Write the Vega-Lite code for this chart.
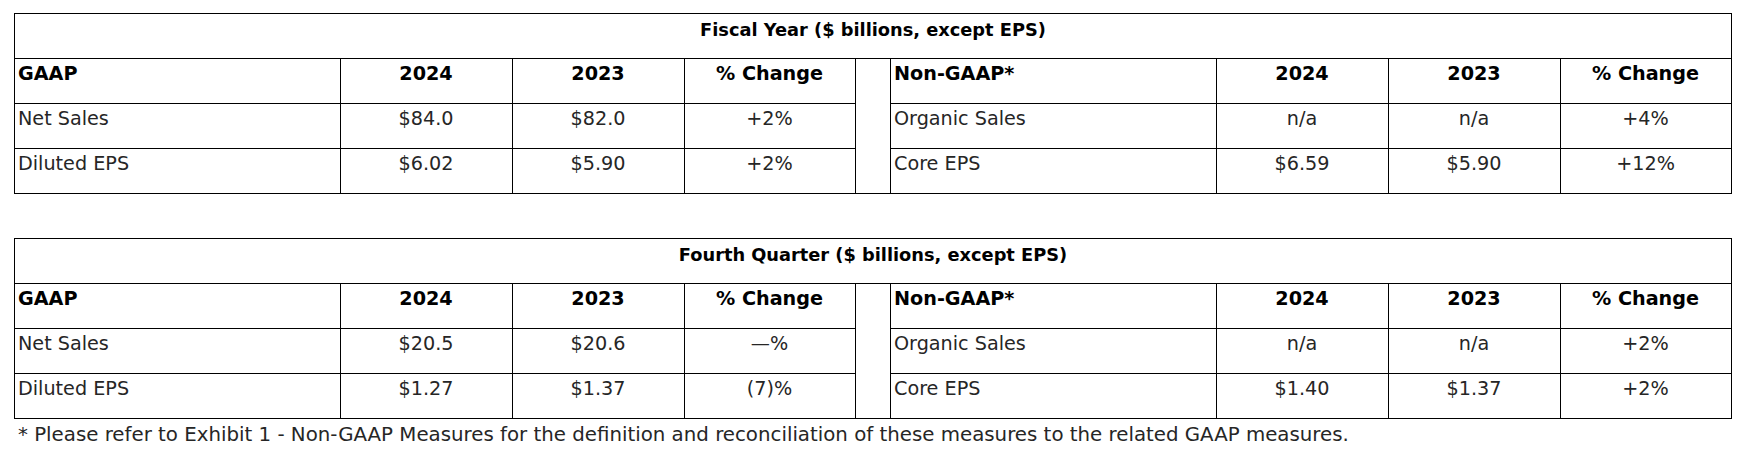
{
"$schema": "https://vega.github.io/schema/vega-lite/v6.json",
"padding": {"left": 14, "top": 13, "right": 0, "bottom": 0},
"background": "white",
"config": {
  "view": {"stroke": null},
  "rect": {"color": "#000"},
  "text": {"font": "DejaVu Sans", "baseline": "alphabetic"},
  "style": {
    "hdr": {"fontWeight": 700, "fontSize": 19.2, "color": "#000", "dy": 22.3},
    "body": {"fontWeight": 400, "fontSize": 19.2, "color": "#262626", "dy": 22.3},
    "ttl": {"fontWeight": 700, "fontSize": 17.8, "color": "#000"},
    "note": {"fontWeight": 400, "fontSize": 19.8, "color": "#262626"}
  }
},
"datasets": {
  "titles": [
    {"t": "FY", "title": "Fiscal Year ($ billions, except EPS)"},
    {"t": "Q4", "title": "Fourth Quarter ($ billions, except EPS)"}
  ],
  "notes": [
    {"note": "* Please refer to Exhibit 1 - Non-GAAP Measures for the definition and reconciliation of these measures to the related GAAP measures."}
  ],
  "cells": [
    {"t": "FY", "c": "gl", "r": 0, "v": "GAAP"},
    {"t": "FY", "c": "gl", "r": 1, "v": "Net Sales"},
    {"t": "FY", "c": "gl", "r": 2, "v": "Diluted EPS"},
    {"t": "FY", "c": "g24", "r": 0, "v": "2024"},
    {"t": "FY", "c": "g24", "r": 1, "v": "$84.0"},
    {"t": "FY", "c": "g24", "r": 2, "v": "$6.02"},
    {"t": "FY", "c": "g23", "r": 0, "v": "2023"},
    {"t": "FY", "c": "g23", "r": 1, "v": "$82.0"},
    {"t": "FY", "c": "g23", "r": 2, "v": "$5.90"},
    {"t": "FY", "c": "gch", "r": 0, "v": "% Change"},
    {"t": "FY", "c": "gch", "r": 1, "v": "+2%"},
    {"t": "FY", "c": "gch", "r": 2, "v": "+2%"},
    {"t": "FY", "c": "nl", "r": 0, "v": "Non-GAAP*"},
    {"t": "FY", "c": "nl", "r": 1, "v": "Organic Sales"},
    {"t": "FY", "c": "nl", "r": 2, "v": "Core EPS"},
    {"t": "FY", "c": "n24", "r": 0, "v": "2024"},
    {"t": "FY", "c": "n24", "r": 1, "v": "n/a"},
    {"t": "FY", "c": "n24", "r": 2, "v": "$6.59"},
    {"t": "FY", "c": "n23", "r": 0, "v": "2023"},
    {"t": "FY", "c": "n23", "r": 1, "v": "n/a"},
    {"t": "FY", "c": "n23", "r": 2, "v": "$5.90"},
    {"t": "FY", "c": "nch", "r": 0, "v": "% Change"},
    {"t": "FY", "c": "nch", "r": 1, "v": "+4%"},
    {"t": "FY", "c": "nch", "r": 2, "v": "+12%"},
    {"t": "Q4", "c": "gl", "r": 0, "v": "GAAP"},
    {"t": "Q4", "c": "gl", "r": 1, "v": "Net Sales"},
    {"t": "Q4", "c": "gl", "r": 2, "v": "Diluted EPS"},
    {"t": "Q4", "c": "g24", "r": 0, "v": "2024"},
    {"t": "Q4", "c": "g24", "r": 1, "v": "$20.5"},
    {"t": "Q4", "c": "g24", "r": 2, "v": "$1.27"},
    {"t": "Q4", "c": "g23", "r": 0, "v": "2023"},
    {"t": "Q4", "c": "g23", "r": 1, "v": "$20.6"},
    {"t": "Q4", "c": "g23", "r": 2, "v": "$1.37"},
    {"t": "Q4", "c": "gch", "r": 0, "v": "% Change"},
    {"t": "Q4", "c": "gch", "r": 1, "v": "—%"},
    {"t": "Q4", "c": "gch", "r": 2, "v": "(7)%"},
    {"t": "Q4", "c": "nl", "r": 0, "v": "Non-GAAP*"},
    {"t": "Q4", "c": "nl", "r": 1, "v": "Organic Sales"},
    {"t": "Q4", "c": "nl", "r": 2, "v": "Core EPS"},
    {"t": "Q4", "c": "n24", "r": 0, "v": "2024"},
    {"t": "Q4", "c": "n24", "r": 1, "v": "n/a"},
    {"t": "Q4", "c": "n24", "r": 2, "v": "$1.40"},
    {"t": "Q4", "c": "n23", "r": 0, "v": "2023"},
    {"t": "Q4", "c": "n23", "r": 1, "v": "n/a"},
    {"t": "Q4", "c": "n23", "r": 2, "v": "$1.37"},
    {"t": "Q4", "c": "nch", "r": 0, "v": "% Change"},
    {"t": "Q4", "c": "nch", "r": 1, "v": "+2%"},
    {"t": "Q4", "c": "nch", "r": 2, "v": "+2%"}
  ]
},
"spacing": 44,
"vconcat": [
 {"spacing": 0, "vconcat": [
  {"width": 1718, "height": 45, "data": {"name": "titles"}, "transform": [{"filter": "datum.t=='FY'"}],
   "layer": [
    {"mark": {"type": "rect", "y2Offset": 1}, "encoding": {"y": {"datum": 0, "type": "quantitative", "scale": {"domain": [0,1], "reverse": true, "nice": false}, "axis": null}, "y2": {"datum": 0}}},
    {"mark": {"type": "rect", "x2Offset": 1}, "encoding": {"x": {"datum": 0, "type": "quantitative", "scale": {"domain": [0,1], "nice": false}, "axis": null}, "x2": {"datum": 0}}},
    {"mark": {"type": "rect", "x2Offset": -1}, "encoding": {"x": {"datum": 1, "type": "quantitative"}, "x2": {"datum": 1}}},
    {"mark": {"type": "text", "style": "ttl"}, "encoding": {"text": {"field": "title"}}}
   ]},
  {"spacing": 0, "hconcat": [
   {"width": 326, "height": 135, "data": {"name": "cells"}, "transform": [{"filter": "datum.t=='FY' && datum.c=='gl'"}],
    "layer": [
     {"mark": {"type": "rect", "y2Offset": 1}, "encoding": {"y": {"field": "r", "type": "quantitative", "scale": {"domain": [0,3], "reverse": true, "nice": false, "zero": false}, "axis": null}, "y2": {"field": "r"}}},
     {"mark": {"type": "rect", "y2Offset": 1}, "encoding": {"y": {"datum": 3, "type": "quantitative"}, "y2": {"datum": 3}}},
     {"mark": {"type": "rect", "x2Offset": 1}, "encoding": {"x": {"datum": 0, "type": "quantitative", "scale": {"domain": [0,1], "nice": false}, "axis": null}, "x2": {"datum": 0}}},
     {"transform": [{"filter": "datum.r==0"}], "mark": {"type": "text", "style": "hdr", "align": "left", "dx": 4}, "encoding": {"y": {"field": "r", "type": "quantitative"}, "x": {"datum": 0, "type": "quantitative"}, "text": {"field": "v"}}},
     {"transform": [{"filter": "datum.r>0"}], "mark": {"type": "text", "style": "body", "align": "left", "dx": 4}, "encoding": {"y": {"field": "r", "type": "quantitative"}, "x": {"datum": 0, "type": "quantitative"}, "text": {"field": "v"}}}
    ]},
   {"width": 172, "height": 135, "data": {"name": "cells"}, "transform": [{"filter": "datum.t=='FY' && datum.c=='g24'"}],
    "layer": [
     {"mark": {"type": "rect", "y2Offset": 1}, "encoding": {"y": {"field": "r", "type": "quantitative", "scale": {"domain": [0,3], "reverse": true, "nice": false, "zero": false}, "axis": null}, "y2": {"field": "r"}}},
     {"mark": {"type": "rect", "y2Offset": 1}, "encoding": {"y": {"datum": 3, "type": "quantitative"}, "y2": {"datum": 3}}},
     {"mark": {"type": "rect", "x2Offset": 1}, "encoding": {"x": {"datum": 0, "type": "quantitative", "scale": {"domain": [0,1], "nice": false}, "axis": null}, "x2": {"datum": 0}}},
     {"transform": [{"filter": "datum.r==0"}], "mark": {"type": "text", "style": "hdr"}, "encoding": {"y": {"field": "r", "type": "quantitative"}, "text": {"field": "v"}}},
     {"transform": [{"filter": "datum.r>0"}], "mark": {"type": "text", "style": "body"}, "encoding": {"y": {"field": "r", "type": "quantitative"}, "text": {"field": "v"}}}
    ]},
   {"width": 172, "height": 135, "data": {"name": "cells"}, "transform": [{"filter": "datum.t=='FY' && datum.c=='g23'"}],
    "layer": [
     {"mark": {"type": "rect", "y2Offset": 1}, "encoding": {"y": {"field": "r", "type": "quantitative", "scale": {"domain": [0,3], "reverse": true, "nice": false, "zero": false}, "axis": null}, "y2": {"field": "r"}}},
     {"mark": {"type": "rect", "y2Offset": 1}, "encoding": {"y": {"datum": 3, "type": "quantitative"}, "y2": {"datum": 3}}},
     {"mark": {"type": "rect", "x2Offset": 1}, "encoding": {"x": {"datum": 0, "type": "quantitative", "scale": {"domain": [0,1], "nice": false}, "axis": null}, "x2": {"datum": 0}}},
     {"transform": [{"filter": "datum.r==0"}], "mark": {"type": "text", "style": "hdr"}, "encoding": {"y": {"field": "r", "type": "quantitative"}, "text": {"field": "v"}}},
     {"transform": [{"filter": "datum.r>0"}], "mark": {"type": "text", "style": "body"}, "encoding": {"y": {"field": "r", "type": "quantitative"}, "text": {"field": "v"}}}
    ]},
   {"width": 171, "height": 135, "data": {"name": "cells"}, "transform": [{"filter": "datum.t=='FY' && datum.c=='gch'"}],
    "layer": [
     {"mark": {"type": "rect", "y2Offset": 1}, "encoding": {"y": {"field": "r", "type": "quantitative", "scale": {"domain": [0,3], "reverse": true, "nice": false, "zero": false}, "axis": null}, "y2": {"field": "r"}}},
     {"mark": {"type": "rect", "y2Offset": 1}, "encoding": {"y": {"datum": 3, "type": "quantitative"}, "y2": {"datum": 3}}},
     {"mark": {"type": "rect", "x2Offset": 1}, "encoding": {"x": {"datum": 0, "type": "quantitative", "scale": {"domain": [0,1], "nice": false}, "axis": null}, "x2": {"datum": 0}}},
     {"transform": [{"filter": "datum.r==0"}], "mark": {"type": "text", "style": "hdr"}, "encoding": {"y": {"field": "r", "type": "quantitative"}, "text": {"field": "v"}}},
     {"transform": [{"filter": "datum.r>0"}], "mark": {"type": "text", "style": "body"}, "encoding": {"y": {"field": "r", "type": "quantitative"}, "text": {"field": "v"}}}
    ]},
   {"width": 35, "height": 135, "data": {"name": "titles"}, "transform": [{"filter": "datum.t=='FY'"}],
    "layer": [
     {"mark": {"type": "rect", "y2Offset": 1}, "encoding": {"y": {"datum": 0, "type": "quantitative", "scale": {"domain": [0,3], "reverse": true, "nice": false, "zero": false}, "axis": null}, "y2": {"datum": 0}}},
     {"mark": {"type": "rect", "y2Offset": 1}, "encoding": {"y": {"datum": 3, "type": "quantitative"}, "y2": {"datum": 3}}},
     {"mark": {"type": "rect", "x2Offset": 1}, "encoding": {"x": {"datum": 0, "type": "quantitative", "scale": {"domain": [0,1], "nice": false}, "axis": null}, "x2": {"datum": 0}}}
    ]},
   {"width": 326, "height": 135, "data": {"name": "cells"}, "transform": [{"filter": "datum.t=='FY' && datum.c=='nl'"}],
    "layer": [
     {"mark": {"type": "rect", "y2Offset": 1}, "encoding": {"y": {"field": "r", "type": "quantitative", "scale": {"domain": [0,3], "reverse": true, "nice": false, "zero": false}, "axis": null}, "y2": {"field": "r"}}},
     {"mark": {"type": "rect", "y2Offset": 1}, "encoding": {"y": {"datum": 3, "type": "quantitative"}, "y2": {"datum": 3}}},
     {"mark": {"type": "rect", "x2Offset": 1}, "encoding": {"x": {"datum": 0, "type": "quantitative", "scale": {"domain": [0,1], "nice": false}, "axis": null}, "x2": {"datum": 0}}},
     {"transform": [{"filter": "datum.r==0"}], "mark": {"type": "text", "style": "hdr", "align": "left", "dx": 4}, "encoding": {"y": {"field": "r", "type": "quantitative"}, "x": {"datum": 0, "type": "quantitative"}, "text": {"field": "v"}}},
     {"transform": [{"filter": "datum.r>0"}], "mark": {"type": "text", "style": "body", "align": "left", "dx": 4}, "encoding": {"y": {"field": "r", "type": "quantitative"}, "x": {"datum": 0, "type": "quantitative"}, "text": {"field": "v"}}}
    ]},
   {"width": 172, "height": 135, "data": {"name": "cells"}, "transform": [{"filter": "datum.t=='FY' && datum.c=='n24'"}],
    "layer": [
     {"mark": {"type": "rect", "y2Offset": 1}, "encoding": {"y": {"field": "r", "type": "quantitative", "scale": {"domain": [0,3], "reverse": true, "nice": false, "zero": false}, "axis": null}, "y2": {"field": "r"}}},
     {"mark": {"type": "rect", "y2Offset": 1}, "encoding": {"y": {"datum": 3, "type": "quantitative"}, "y2": {"datum": 3}}},
     {"mark": {"type": "rect", "x2Offset": 1}, "encoding": {"x": {"datum": 0, "type": "quantitative", "scale": {"domain": [0,1], "nice": false}, "axis": null}, "x2": {"datum": 0}}},
     {"transform": [{"filter": "datum.r==0"}], "mark": {"type": "text", "style": "hdr"}, "encoding": {"y": {"field": "r", "type": "quantitative"}, "text": {"field": "v"}}},
     {"transform": [{"filter": "datum.r>0"}], "mark": {"type": "text", "style": "body"}, "encoding": {"y": {"field": "r", "type": "quantitative"}, "text": {"field": "v"}}}
    ]},
   {"width": 172, "height": 135, "data": {"name": "cells"}, "transform": [{"filter": "datum.t=='FY' && datum.c=='n23'"}],
    "layer": [
     {"mark": {"type": "rect", "y2Offset": 1}, "encoding": {"y": {"field": "r", "type": "quantitative", "scale": {"domain": [0,3], "reverse": true, "nice": false, "zero": false}, "axis": null}, "y2": {"field": "r"}}},
     {"mark": {"type": "rect", "y2Offset": 1}, "encoding": {"y": {"datum": 3, "type": "quantitative"}, "y2": {"datum": 3}}},
     {"mark": {"type": "rect", "x2Offset": 1}, "encoding": {"x": {"datum": 0, "type": "quantitative", "scale": {"domain": [0,1], "nice": false}, "axis": null}, "x2": {"datum": 0}}},
     {"transform": [{"filter": "datum.r==0"}], "mark": {"type": "text", "style": "hdr"}, "encoding": {"y": {"field": "r", "type": "quantitative"}, "text": {"field": "v"}}},
     {"transform": [{"filter": "datum.r>0"}], "mark": {"type": "text", "style": "body"}, "encoding": {"y": {"field": "r", "type": "quantitative"}, "text": {"field": "v"}}}
    ]},
   {"width": 172, "height": 135, "data": {"name": "cells"}, "transform": [{"filter": "datum.t=='FY' && datum.c=='nch'"}],
    "layer": [
     {"mark": {"type": "rect", "y2Offset": 1}, "encoding": {"y": {"field": "r", "type": "quantitative", "scale": {"domain": [0,3], "reverse": true, "nice": false, "zero": false}, "axis": null}, "y2": {"field": "r"}}},
     {"mark": {"type": "rect", "y2Offset": 1}, "encoding": {"y": {"datum": 3, "type": "quantitative"}, "y2": {"datum": 3}}},
     {"mark": {"type": "rect", "x2Offset": 1}, "encoding": {"x": {"datum": 0, "type": "quantitative", "scale": {"domain": [0,1], "nice": false}, "axis": null}, "x2": {"datum": 0}}},
     {"mark": {"type": "rect", "x2Offset": -1}, "encoding": {"x": {"datum": 1, "type": "quantitative"}, "x2": {"datum": 1}}},
     {"transform": [{"filter": "datum.r==0"}], "mark": {"type": "text", "style": "hdr", "dx": -0.5}, "encoding": {"y": {"field": "r", "type": "quantitative"}, "text": {"field": "v"}}},
     {"transform": [{"filter": "datum.r>0"}], "mark": {"type": "text", "style": "body", "dx": -0.5}, "encoding": {"y": {"field": "r", "type": "quantitative"}, "text": {"field": "v"}}}
    ]}
  ]}
 ]},
 {"spacing": 0, "vconcat": [
  {"width": 1718, "height": 45, "data": {"name": "titles"}, "transform": [{"filter": "datum.t=='Q4'"}],
   "layer": [
    {"mark": {"type": "rect", "y2Offset": 1}, "encoding": {"y": {"datum": 0, "type": "quantitative", "scale": {"domain": [0,1], "reverse": true, "nice": false}, "axis": null}, "y2": {"datum": 0}}},
    {"mark": {"type": "rect", "x2Offset": 1}, "encoding": {"x": {"datum": 0, "type": "quantitative", "scale": {"domain": [0,1], "nice": false}, "axis": null}, "x2": {"datum": 0}}},
    {"mark": {"type": "rect", "x2Offset": -1}, "encoding": {"x": {"datum": 1, "type": "quantitative"}, "x2": {"datum": 1}}},
    {"mark": {"type": "text", "style": "ttl"}, "encoding": {"text": {"field": "title"}}}
   ]},
  {"spacing": 0, "hconcat": [
   {"width": 326, "height": 135, "data": {"name": "cells"}, "transform": [{"filter": "datum.t=='Q4' && datum.c=='gl'"}],
    "layer": [
     {"mark": {"type": "rect", "y2Offset": 1}, "encoding": {"y": {"field": "r", "type": "quantitative", "scale": {"domain": [0,3], "reverse": true, "nice": false, "zero": false}, "axis": null}, "y2": {"field": "r"}}},
     {"mark": {"type": "rect", "y2Offset": 1}, "encoding": {"y": {"datum": 3, "type": "quantitative"}, "y2": {"datum": 3}}},
     {"mark": {"type": "rect", "x2Offset": 1}, "encoding": {"x": {"datum": 0, "type": "quantitative", "scale": {"domain": [0,1], "nice": false}, "axis": null}, "x2": {"datum": 0}}},
     {"transform": [{"filter": "datum.r==0"}], "mark": {"type": "text", "style": "hdr", "align": "left", "dx": 4}, "encoding": {"y": {"field": "r", "type": "quantitative"}, "x": {"datum": 0, "type": "quantitative"}, "text": {"field": "v"}}},
     {"transform": [{"filter": "datum.r>0"}], "mark": {"type": "text", "style": "body", "align": "left", "dx": 4}, "encoding": {"y": {"field": "r", "type": "quantitative"}, "x": {"datum": 0, "type": "quantitative"}, "text": {"field": "v"}}}
    ]},
   {"width": 172, "height": 135, "data": {"name": "cells"}, "transform": [{"filter": "datum.t=='Q4' && datum.c=='g24'"}],
    "layer": [
     {"mark": {"type": "rect", "y2Offset": 1}, "encoding": {"y": {"field": "r", "type": "quantitative", "scale": {"domain": [0,3], "reverse": true, "nice": false, "zero": false}, "axis": null}, "y2": {"field": "r"}}},
     {"mark": {"type": "rect", "y2Offset": 1}, "encoding": {"y": {"datum": 3, "type": "quantitative"}, "y2": {"datum": 3}}},
     {"mark": {"type": "rect", "x2Offset": 1}, "encoding": {"x": {"datum": 0, "type": "quantitative", "scale": {"domain": [0,1], "nice": false}, "axis": null}, "x2": {"datum": 0}}},
     {"transform": [{"filter": "datum.r==0"}], "mark": {"type": "text", "style": "hdr"}, "encoding": {"y": {"field": "r", "type": "quantitative"}, "text": {"field": "v"}}},
     {"transform": [{"filter": "datum.r>0"}], "mark": {"type": "text", "style": "body"}, "encoding": {"y": {"field": "r", "type": "quantitative"}, "text": {"field": "v"}}}
    ]},
   {"width": 172, "height": 135, "data": {"name": "cells"}, "transform": [{"filter": "datum.t=='Q4' && datum.c=='g23'"}],
    "layer": [
     {"mark": {"type": "rect", "y2Offset": 1}, "encoding": {"y": {"field": "r", "type": "quantitative", "scale": {"domain": [0,3], "reverse": true, "nice": false, "zero": false}, "axis": null}, "y2": {"field": "r"}}},
     {"mark": {"type": "rect", "y2Offset": 1}, "encoding": {"y": {"datum": 3, "type": "quantitative"}, "y2": {"datum": 3}}},
     {"mark": {"type": "rect", "x2Offset": 1}, "encoding": {"x": {"datum": 0, "type": "quantitative", "scale": {"domain": [0,1], "nice": false}, "axis": null}, "x2": {"datum": 0}}},
     {"transform": [{"filter": "datum.r==0"}], "mark": {"type": "text", "style": "hdr"}, "encoding": {"y": {"field": "r", "type": "quantitative"}, "text": {"field": "v"}}},
     {"transform": [{"filter": "datum.r>0"}], "mark": {"type": "text", "style": "body"}, "encoding": {"y": {"field": "r", "type": "quantitative"}, "text": {"field": "v"}}}
    ]},
   {"width": 171, "height": 135, "data": {"name": "cells"}, "transform": [{"filter": "datum.t=='Q4' && datum.c=='gch'"}],
    "layer": [
     {"mark": {"type": "rect", "y2Offset": 1}, "encoding": {"y": {"field": "r", "type": "quantitative", "scale": {"domain": [0,3], "reverse": true, "nice": false, "zero": false}, "axis": null}, "y2": {"field": "r"}}},
     {"mark": {"type": "rect", "y2Offset": 1}, "encoding": {"y": {"datum": 3, "type": "quantitative"}, "y2": {"datum": 3}}},
     {"mark": {"type": "rect", "x2Offset": 1}, "encoding": {"x": {"datum": 0, "type": "quantitative", "scale": {"domain": [0,1], "nice": false}, "axis": null}, "x2": {"datum": 0}}},
     {"transform": [{"filter": "datum.r==0"}], "mark": {"type": "text", "style": "hdr"}, "encoding": {"y": {"field": "r", "type": "quantitative"}, "text": {"field": "v"}}},
     {"transform": [{"filter": "datum.r>0"}], "mark": {"type": "text", "style": "body"}, "encoding": {"y": {"field": "r", "type": "quantitative"}, "text": {"field": "v"}}}
    ]},
   {"width": 35, "height": 135, "data": {"name": "titles"}, "transform": [{"filter": "datum.t=='Q4'"}],
    "layer": [
     {"mark": {"type": "rect", "y2Offset": 1}, "encoding": {"y": {"datum": 0, "type": "quantitative", "scale": {"domain": [0,3], "reverse": true, "nice": false, "zero": false}, "axis": null}, "y2": {"datum": 0}}},
     {"mark": {"type": "rect", "y2Offset": 1}, "encoding": {"y": {"datum": 3, "type": "quantitative"}, "y2": {"datum": 3}}},
     {"mark": {"type": "rect", "x2Offset": 1}, "encoding": {"x": {"datum": 0, "type": "quantitative", "scale": {"domain": [0,1], "nice": false}, "axis": null}, "x2": {"datum": 0}}}
    ]},
   {"width": 326, "height": 135, "data": {"name": "cells"}, "transform": [{"filter": "datum.t=='Q4' && datum.c=='nl'"}],
    "layer": [
     {"mark": {"type": "rect", "y2Offset": 1}, "encoding": {"y": {"field": "r", "type": "quantitative", "scale": {"domain": [0,3], "reverse": true, "nice": false, "zero": false}, "axis": null}, "y2": {"field": "r"}}},
     {"mark": {"type": "rect", "y2Offset": 1}, "encoding": {"y": {"datum": 3, "type": "quantitative"}, "y2": {"datum": 3}}},
     {"mark": {"type": "rect", "x2Offset": 1}, "encoding": {"x": {"datum": 0, "type": "quantitative", "scale": {"domain": [0,1], "nice": false}, "axis": null}, "x2": {"datum": 0}}},
     {"transform": [{"filter": "datum.r==0"}], "mark": {"type": "text", "style": "hdr", "align": "left", "dx": 4}, "encoding": {"y": {"field": "r", "type": "quantitative"}, "x": {"datum": 0, "type": "quantitative"}, "text": {"field": "v"}}},
     {"transform": [{"filter": "datum.r>0"}], "mark": {"type": "text", "style": "body", "align": "left", "dx": 4}, "encoding": {"y": {"field": "r", "type": "quantitative"}, "x": {"datum": 0, "type": "quantitative"}, "text": {"field": "v"}}}
    ]},
   {"width": 172, "height": 135, "data": {"name": "cells"}, "transform": [{"filter": "datum.t=='Q4' && datum.c=='n24'"}],
    "layer": [
     {"mark": {"type": "rect", "y2Offset": 1}, "encoding": {"y": {"field": "r", "type": "quantitative", "scale": {"domain": [0,3], "reverse": true, "nice": false, "zero": false}, "axis": null}, "y2": {"field": "r"}}},
     {"mark": {"type": "rect", "y2Offset": 1}, "encoding": {"y": {"datum": 3, "type": "quantitative"}, "y2": {"datum": 3}}},
     {"mark": {"type": "rect", "x2Offset": 1}, "encoding": {"x": {"datum": 0, "type": "quantitative", "scale": {"domain": [0,1], "nice": false}, "axis": null}, "x2": {"datum": 0}}},
     {"transform": [{"filter": "datum.r==0"}], "mark": {"type": "text", "style": "hdr"}, "encoding": {"y": {"field": "r", "type": "quantitative"}, "text": {"field": "v"}}},
     {"transform": [{"filter": "datum.r>0"}], "mark": {"type": "text", "style": "body"}, "encoding": {"y": {"field": "r", "type": "quantitative"}, "text": {"field": "v"}}}
    ]},
   {"width": 172, "height": 135, "data": {"name": "cells"}, "transform": [{"filter": "datum.t=='Q4' && datum.c=='n23'"}],
    "layer": [
     {"mark": {"type": "rect", "y2Offset": 1}, "encoding": {"y": {"field": "r", "type": "quantitative", "scale": {"domain": [0,3], "reverse": true, "nice": false, "zero": false}, "axis": null}, "y2": {"field": "r"}}},
     {"mark": {"type": "rect", "y2Offset": 1}, "encoding": {"y": {"datum": 3, "type": "quantitative"}, "y2": {"datum": 3}}},
     {"mark": {"type": "rect", "x2Offset": 1}, "encoding": {"x": {"datum": 0, "type": "quantitative", "scale": {"domain": [0,1], "nice": false}, "axis": null}, "x2": {"datum": 0}}},
     {"transform": [{"filter": "datum.r==0"}], "mark": {"type": "text", "style": "hdr"}, "encoding": {"y": {"field": "r", "type": "quantitative"}, "text": {"field": "v"}}},
     {"transform": [{"filter": "datum.r>0"}], "mark": {"type": "text", "style": "body"}, "encoding": {"y": {"field": "r", "type": "quantitative"}, "text": {"field": "v"}}}
    ]},
   {"width": 172, "height": 135, "data": {"name": "cells"}, "transform": [{"filter": "datum.t=='Q4' && datum.c=='nch'"}],
    "layer": [
     {"mark": {"type": "rect", "y2Offset": 1}, "encoding": {"y": {"field": "r", "type": "quantitative", "scale": {"domain": [0,3], "reverse": true, "nice": false, "zero": false}, "axis": null}, "y2": {"field": "r"}}},
     {"mark": {"type": "rect", "y2Offset": 1}, "encoding": {"y": {"datum": 3, "type": "quantitative"}, "y2": {"datum": 3}}},
     {"mark": {"type": "rect", "x2Offset": 1}, "encoding": {"x": {"datum": 0, "type": "quantitative", "scale": {"domain": [0,1], "nice": false}, "axis": null}, "x2": {"datum": 0}}},
     {"mark": {"type": "rect", "x2Offset": -1}, "encoding": {"x": {"datum": 1, "type": "quantitative"}, "x2": {"datum": 1}}},
     {"transform": [{"filter": "datum.r==0"}], "mark": {"type": "text", "style": "hdr", "dx": -0.5}, "encoding": {"y": {"field": "r", "type": "quantitative"}, "text": {"field": "v"}}},
     {"transform": [{"filter": "datum.r>0"}], "mark": {"type": "text", "style": "body", "dx": -0.5}, "encoding": {"y": {"field": "r", "type": "quantitative"}, "text": {"field": "v"}}}
    ]}
  ]},
  {"width": 1718, "height": 30, "data": {"name": "notes"},
   "mark": {"type": "text", "style": "note", "align": "left", "dx": 4, "dy": 7},
   "encoding": {"text": {"field": "note"}, "x": {"datum": 0, "type": "quantitative", "scale": {"domain": [0,1], "nice": false}, "axis": null}}}
 ]}
]
}
